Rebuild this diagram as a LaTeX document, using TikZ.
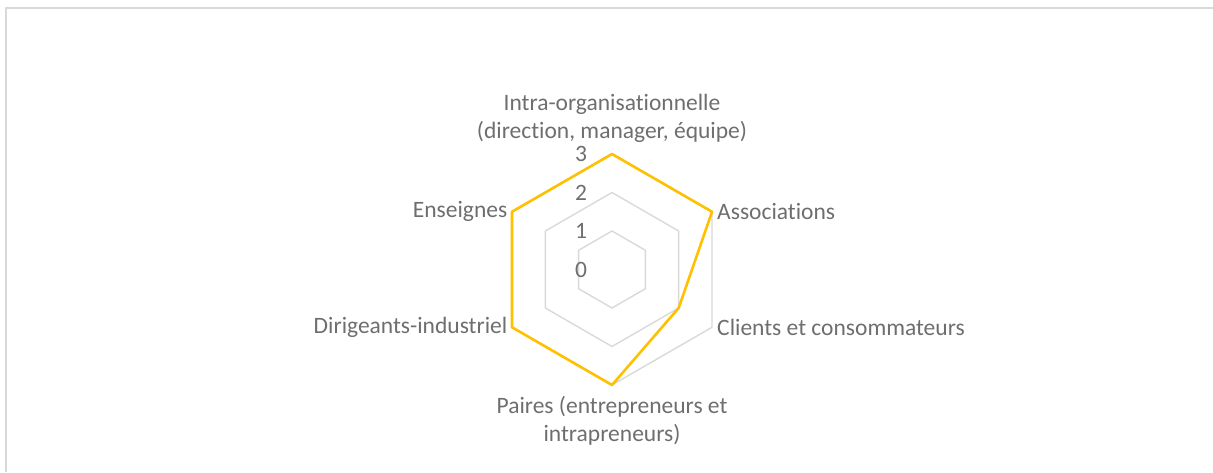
\documentclass[tikz,border=0pt]{standalone}
\usepackage{fontspec}
\setmainfont{Carlito}[Ligatures=NoCommon]
\usetikzlibrary{positioning}
\definecolor{txtgray}{HTML}{6E6E6E}
\definecolor{gridgray}{HTML}{D9D9D9}
\definecolor{serieyellow}{HTML}{FFC000}
\tikzset{
	levelhex/.style={draw=gridgray,line width=1.4pt},
	serie/.style={draw=serieyellow,line width=2.6pt},
	axislabel/.style={inner sep=0pt,text=txtgray},
	levelnum/.style={inner sep=0pt,text=txtgray}
}
\begin{document}
\begin{tikzpicture}[x=1pt,y=1pt,font=\fontsize{23.5}{28.3}\selectfont,line join=round,line cap=round]
	\useasboundingbox (-612,-202.5) rectangle (601,269.5);
	% chart frame (top and left only)
	\draw[gridgray,line width=2pt,line cap=butt] (-605.5,-202.5) -- (-605.5,261) -- (601,261);
	% axis ends at level 3
	\coordinate (O) at (0,0);
	\coordinate (intra) at (90:115.5);
	\coordinate (asso) at (30:115.5);
	\coordinate (clients) at (-30:115.5);
	\coordinate (paires) at (-90:115.5);
	\coordinate (dirig) at (210:115.5);
	\coordinate (enseig) at (150:115.5);
	\coordinate (clientsval) at (-30:77);
	% level hexagons
	\draw[levelhex] (90:38.5)--(30:38.5)--(-30:38.5)--(-90:38.5)--(210:38.5)--(150:38.5)--cycle;
	\draw[levelhex] (90:77)--(30:77)--(-30:77)--(-90:77)--(210:77)--(150:77)--cycle;
	\draw[levelhex] (intra)--(asso)--(clients)--(paires)--(dirig)--(enseig)--cycle;
	% values
	\draw[serie] (intra)--(asso)--(clientsval)--(paires)--(dirig)--(enseig)--cycle;
	% level numbers
	\node[levelnum] (n0) at (-31,0) {0};
	\node[levelnum] (n1) at (-31,38.5) {1};
	\node[levelnum] (n2) at (-31,77) {2};
	\node[levelnum] (n3) at (-31,115.5) {3};
	% axis labels
	\node[axislabel,align=center,above=11pt of intra] (lintra) {Intra-organisationnelle\\(direction, manager, équipe)};
	\node[axislabel,right=5pt of asso] (lasso) {Associations};
	\node[axislabel,right=5pt of clients] (lclients) {Clients et consommateurs};
	\node[axislabel,align=center,below=11pt of paires] (lpaires) {Paires (entrepreneurs et\\intrapreneurs)};
	\node[axislabel,left=4.5pt of dirig] (ldirig) {Dirigeants-industriel};
	\node[axislabel,left=4.5pt of enseig] (lenseig) {Enseignes};
\end{tikzpicture}
\end{document}
